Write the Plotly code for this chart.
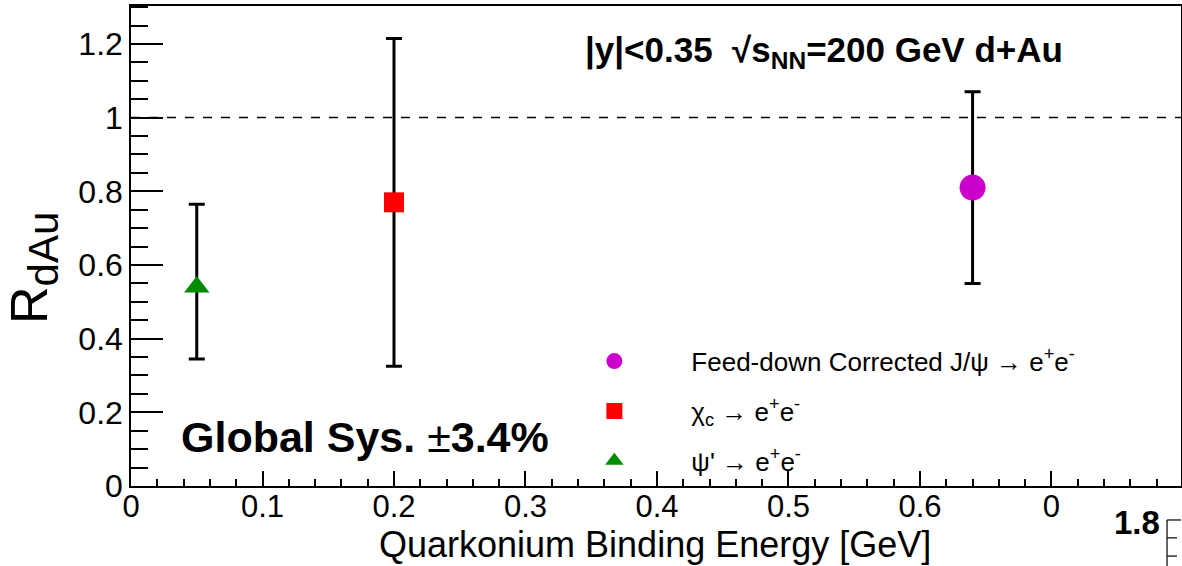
import plotly.graph_objects as go

# Binding energies [GeV] and nuclear modification factors
binding_energy = [0.64, 0.20, 0.05]
r_dau = [0.81, 0.77, 0.54]
err_up = [0.26, 0.445, 0.225]
err_down = [0.26, 0.445, 0.195]
names = [
    "Feed-down Corrected J/ψ → e<sup>+</sup>e<sup>-</sup>",
    "χ<sub>c</sub> → e<sup>+</sup>e<sup>-</sup>",
    "ψ' → e<sup>+</sup>e<sup>-</sup>",
]
colors = ["#cc00cc", "#ff0000", "#008c00"]
symbols = ["circle", "square", "triangle-up"]
sizes = [26, 20, 22]

x_tickvals = [0, 0.1, 0.2, 0.3, 0.4, 0.5, 0.6, 0.7]
x_ticktext = ["0", "0.1", "0.2", "0.3", "0.4", "0.5", "0.6", "0"]
y_tickvals = [0, 0.2, 0.4, 0.6, 0.8, 1.0, 1.2]
y_ticktext = ["0", "0.2", "0.4", "0.6", "0.8", "1", "1.2"]

FONT = "Liberation Sans, Arial, Helvetica, sans-serif"

fig = go.Figure()
for i in range(len(binding_energy)):
    fig.add_trace(go.Scatter(
        x=[binding_energy[i]], y=[r_dau[i]], mode="markers", name=names[i],
        legendgroup=f"g{i}",
        marker=dict(symbol=symbols[i], size=sizes[i], color=colors[i], line=dict(width=0)),
        error_y=dict(type="data", symmetric=False, array=[err_up[i]], arrayminus=[err_down[i]],
                     color="black", thickness=3, width=8),
    ))

# reference line at R_dAu = 1
fig.add_shape(type="line", xref="x", yref="y", x0=0, x1=0.8, y0=1, y1=1,
              line=dict(color="black", width=1.5, dash="dash"))

# stray axis fragment in the lower right corner
frag = dict(color="black", width=1.2)
fig.add_shape(type="line", xref="paper", yref="paper", x0=0.9867, x1=0.9867, y0=-0.0708, y1=-0.17, line=frag)
fig.add_shape(type="line", xref="paper", yref="paper", x0=0.9867, x1=1.0, y0=-0.0708, y1=-0.0708, line=frag)
fig.add_shape(type="line", xref="paper", yref="paper", x0=0.9867, x1=0.9962, y0=-0.108, y1=-0.108, line=frag)
fig.add_shape(type="line", xref="paper", yref="paper", x0=0.9867, x1=0.9962, y0=-0.146, y1=-0.146, line=frag)

fig.add_annotation(xref="paper", yref="paper", x=0.4305, y=0.904, xanchor="left", yanchor="middle",
                   text="<b>|y|<0.35  √s<sub>NN</sub>=200 GeV d+Au</b>", showarrow=False,
                   font=dict(family=FONT, size=35, color="black"))
fig.add_annotation(xref="paper", yref="paper", x=0.0457, y=0.102, xanchor="left", yanchor="middle",
                   text="<b>Global Sys.</b> ±<b>3.4%</b>", showarrow=False,
                   font=dict(family=FONT, size=43, color="black"))
fig.add_annotation(xref="paper", yref="paper", x=0.958, y=-0.075, xanchor="center", yanchor="middle",
                   text="<b>1.8</b>", showarrow=False,
                   font=dict(family=FONT, size=33, color="black"))
# axis titles
fig.add_annotation(xref="paper", yref="paper", x=-0.093, y=0.455, xanchor="center", yanchor="middle",
                   text="R<sub><span style='font-size:42px'>dAu</span></sub>", textangle=-90, showarrow=False,
                   font=dict(family=FONT, size=52, color="black"))
fig.add_annotation(xref="paper", yref="paper", x=0.4995, y=-0.122, xanchor="center", yanchor="middle",
                   text="Quarkonium Binding Energy [GeV]", showarrow=False,
                   font=dict(family=FONT, size=36, color="black"))

fig.update_layout(
    width=1182, height=566,
    margin=dict(l=131, r=1, t=6, b=80),
    paper_bgcolor="white", plot_bgcolor="white",
    font=dict(family=FONT, color="black"),
    showlegend=True,
    legend=dict(x=0.387, y=0.309, xanchor="left", yanchor="top", bgcolor="rgba(0,0,0,0)",
                font=dict(family=FONT, size=26, color="black"), itemwidth=144,
                traceorder="grouped", tracegroupgap=13, itemsizing="trace"),
    xaxis=dict(range=[0, 0.7985], tickvals=x_tickvals, ticktext=x_ticktext,
               ticks="inside", ticklen=15, tickwidth=1.5, tickcolor="black",
               minor=dict(dtick=0.02, ticks="inside", ticklen=7, tickwidth=1.5, tickcolor="black"),
               showline=True, linecolor="black", linewidth=1.5, mirror=True,
               showgrid=False, zeroline=False, automargin=False,
               tickfont=dict(size=31, family=FONT), ticklabelstandoff=-8),
    yaxis=dict(range=[0, 1.303], tickvals=y_tickvals, ticktext=y_ticktext,
               ticks="inside", ticklen=32, tickwidth=1.5, tickcolor="black",
               minor=dict(dtick=0.05, ticks="inside", ticklen=17, tickwidth=1.5, tickcolor="black"),
               showline=True, linecolor="black", linewidth=1.5, mirror=True,
               showgrid=False, zeroline=False, automargin=False,
               tickfont=dict(size=32, family=FONT)),
)

fig.write_html("out.html")
